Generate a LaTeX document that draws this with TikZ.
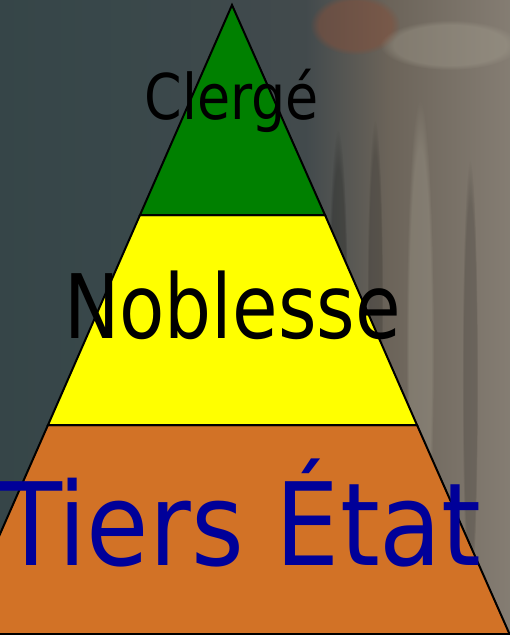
\documentclass[tikz,border=0pt]{standalone}
\usepackage{fontspec}
\usetikzlibrary{fadings}
\newfontfamily\fontclerge{DejaVu Sans Condensed}[FakeStretch=0.95]
\newfontfamily\fontnoblesse{DejaVu Sans Condensed}[FakeStretch=0.925]
\newfontfamily\fonttiers{DejaVu Sans Condensed}[FakeStretch=0.98]
\pgfdeclarehorizontalshading{bgshade}{100bp}{rgb(0bp)=(0.19,0.25,0.26); rgb(35bp)=(0.22,0.28,0.29); rgb(55bp)=(0.26,0.29,0.30); rgb(63bp)=(0.42,0.39,0.35); rgb(75bp)=(0.52,0.49,0.45); rgb(90bp)=(0.55,0.52,0.48); rgb(100bp)=(0.47,0.45,0.42)}
\definecolor{bandgreen}{RGB}{0,128,0}
\definecolor{bandyellow}{RGB}{255,255,0}
\definecolor{bandorange}{RGB}{210,114,38}
\definecolor{textblue}{RGB}{0,0,153}
\definecolor{rustpatch}{RGB}{130,80,60}
\definecolor{palepatch}{RGB}{170,165,150}
\tikzset{
  band/.style={draw=black, line width=2pt, line join=miter},
  label/.style={inner sep=0pt, anchor=base},
  blur/.style={path fading=circle with fuzzy edge 20 percent},
}
\begin{document}
\begin{tikzpicture}[x=1pt,y=-1pt]
\useasboundingbox (0,0) rectangle (510,635);
\begin{scope}
\clip (0,0) rectangle (510,635);
\shade[shading=bgshade] (0,0) rectangle (510,635);
\fill[rustpatch, blur, opacity=0.55] (355,25) ellipse (45 and 30);
\fill[palepatch, blur, opacity=0.35] (450,45) ellipse (70 and 25);
\fill[black, blur, opacity=0.2] (338,330) ellipse (10 and 200);
\fill[black, blur, opacity=0.15] (375,300) ellipse (8 and 180);
\fill[black, blur, opacity=0.15] (470,380) ellipse (8 and 220);
\fill[palepatch, blur, opacity=0.3] (420,350) ellipse (14 and 250);
\fill[bandorange, band] (48,425) -- (417,425) -- (509.5,634) -- (-44,634) -- cycle;
\fill[bandyellow, band] (140,215) -- (325,215) -- (417,425) -- (48,425) -- cycle;
\fill[bandgreen, band] (232,5) -- (325,215) -- (140,215) -- cycle;
\end{scope}
\node[label, font=\fontclerge\fontsize{63}{70}\selectfont] (clerge) at (232,119) {Clergé};
\node[label, font=\fontnoblesse\fontsize{89}{96}\selectfont] (noblesse) at (232.5,338) {Noblesse};
\node[label, font=\fonttiers\fontsize{115}{124}\selectfont, text=textblue] (tiers) at (241,565) {Tiers État};
\end{tikzpicture}
\end{document}
